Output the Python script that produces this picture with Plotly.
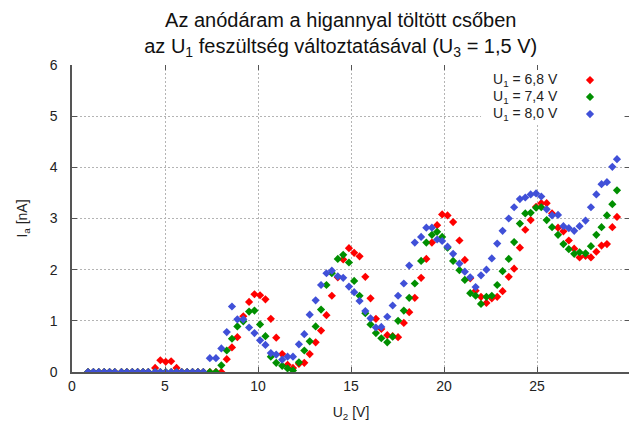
import plotly.graph_objects as go

U2 = [0.86, 1.15, 1.44, 1.73, 2.02, 2.30, 2.66, 2.95, 3.24, 3.53,
      3.82, 4.10, 4.47, 4.75, 5.04, 5.33, 5.62, 5.90, 6.19, 6.48,
      6.77, 7.06, 7.41, 7.74, 8.03, 8.32, 8.60, 8.89, 9.21, 9.52,
      9.81, 10.11, 10.40, 10.69, 10.98, 11.30, 11.59, 11.88, 12.20, 12.49,
      12.78, 13.10, 13.39, 13.68, 13.97, 14.29, 14.58, 14.89, 15.17, 15.46,
      15.77, 16.05, 16.34, 16.63, 16.95, 17.24, 17.53, 17.84, 18.13, 18.43,
      18.77, 19.05, 19.35, 19.63, 19.90, 20.19, 20.49, 20.83, 21.12, 21.41,
      21.70, 21.99, 22.28, 22.57, 22.86, 23.15, 23.48, 23.77, 24.08, 24.37,
      24.66, 24.95, 25.23, 25.52, 25.81, 26.13, 26.42, 26.71, 27.00, 27.29,
      27.61, 27.90, 28.19, 28.47, 28.76, 29.05, 29.30]

# Ia [nA] for U1 = 6,8 V
Ia_68 = [0, 0, 0, 0, 0, 0, 0, 0, 0, 0,
         0, 0, 0.08, 0.23, 0.20, 0.21, 0.08, 0, 0, 0,
         0, 0, 0, 0, 0, 0.25, 0.48, 0.68, 1.09, 1.37,
         1.52, 1.50, 1.42, 1.04, 0.67, 0.35, 0.14, 0.08, 0.16, 0.18,
         0.35, 0.58, 0.81, 1.11, 1.49, 1.85, 2.20, 2.42, 2.33, 2.26,
         1.86, 1.44, 1.04, 0.84, 0.72, 0.70, 0.68, 0.96, 1.17, 1.45,
         1.84, 2.21, 2.53, 2.87, 3.08, 3.06, 2.93, 2.57, 2.19, 1.83,
         1.59, 1.47, 1.35, 1.44, 1.47, 1.58, 1.86, 2.02, 2.43, 2.78,
         2.97, 3.23, 3.30, 3.30, 3.10, 2.82, 2.75, 2.57, 2.41, 2.24,
         2.27, 2.24, 2.35, 2.47, 2.50, 2.83, 3.03]

# Ia [nA] for U1 = 7,4 V
Ia_74 = [0, 0, 0, 0, 0, 0, 0, 0, 0, 0,
         0, 0, 0, 0, 0, 0, 0, 0, 0, 0,
         0, 0, 0, 0, 0.13, 0.42, 0.65, 0.89, 0.99, 1.18,
         1.20, 0.93, 0.70, 0.30, 0.18, 0.12, 0.07, 0.03, 0.19, 0.42,
         0.60, 0.89, 1.22, 1.70, 1.93, 2.21, 2.29, 2.14, 1.78, 1.49,
         1.15, 0.93, 0.76, 0.66, 0.58, 0.69, 1.00, 1.20, 1.45, 1.73,
         2.17, 2.53, 2.68, 2.74, 2.64, 2.43, 2.17, 1.99, 1.80, 1.54,
         1.49, 1.33, 1.47, 1.49, 1.70, 1.97, 2.21, 2.54, 2.90, 3.10,
         3.11, 3.21, 3.22, 2.97, 2.83, 2.68, 2.50, 2.40, 2.31, 2.34,
         2.32, 2.46, 2.68, 2.83, 3.06, 3.28, 3.55]

# Ia [nA] for U1 = 8,0 V
Ia_80 = [0, 0, 0, 0, 0, 0, 0, 0, 0, 0,
         0, 0, 0, 0, 0, 0, 0, 0, 0, 0,
         0, 0, 0.27, 0.27, 0.46, 0.78, 1.28, 1.03, 1.03, 0.87,
         0.76, 0.62, 0.53, 0.37, 0.34, 0.24, 0.30, 0.30, 0.54, 0.74,
         1.12, 1.40, 1.70, 1.93, 1.98, 1.87, 1.84, 1.67, 1.56, 1.39,
         1.19, 1.05, 0.87, 0.88, 1.08, 1.30, 1.49, 1.73, 2.08, 2.53,
         2.64, 2.82, 2.82, 2.59, 2.56, 2.45, 2.31, 2.12, 1.96, 1.85,
         1.66, 1.89, 2.00, 2.22, 2.51, 2.76, 3.00, 3.22, 3.38, 3.41,
         3.47, 3.49, 3.43, 3.18, 3.06, 3.07, 2.85, 2.81, 2.76, 2.85,
         2.96, 3.22, 3.47, 3.67, 3.71, 4.01, 4.16]

series_labels = ["U<sub>1</sub> = 6,8 V", "U<sub>1</sub> = 7,4 V", "U<sub>1</sub> = 8,0 V"]
series_values = [Ia_68, Ia_74, Ia_80]
colors = ["#ff0000", "#008f00", "#4050d8"]

x_ticks = [0, 5, 10, 15, 20, 25, 30]
y_ticks = [0, 1, 2, 3, 4, 5, 6]
x_grid = [5, 10, 15, 20, 25]
y_grid = [1, 2, 3, 4, 5]

FONT = "Liberation Sans, Arial, sans-serif"
AX = "#555555"
legend_ids = ["legend", "legend2", "legend3"]
legend_y = [0.951, 0.896, 0.840]

fig = go.Figure()
for lab, vals, col, lid in zip(series_labels, series_values, colors, legend_ids):
    fig.add_trace(go.Scatter(
        x=U2, y=vals, mode="markers", name=" ", legend=lid,
        marker=dict(symbol="diamond", size=6.3, color=col, line=dict(width=0)),
        showlegend=True,
    ))
# invisible trace holding the overlay axes (grid + mirrored ticks)
fig.add_trace(go.Scatter(x=[], y=[], xaxis="x2", yaxis="y2", showlegend=False))

legend_common = dict(x=0.8925, xanchor="left", yanchor="middle",
                     bgcolor="rgba(0,0,0,0)", font=dict(size=9),
                     itemsizing="trace", borderwidth=0)

fig.update_layout(
    width=629, height=418,
    margin=dict(l=64, r=7, t=57, b=54, autoexpand=False),
    paper_bgcolor="white", plot_bgcolor="white",
    font=dict(family=FONT, size=14, color="#222222"),
    title=dict(
        text="Az anódáram a higannyal töltött csőben<br>az U<sub>1</sub> feszültség változtatásával (U<sub>3</sub> = 1,5 V)",
        font=dict(family=FONT, size=20, color="#111111"),
        x=0.529, xref="container", xanchor="center",
        y=0.955, yref="container", yanchor="middle",
    ),
    xaxis=dict(
        range=[0, 30], tickvals=x_ticks, ticks="inside", ticklen=5, tickcolor=AX,
        showline=True, linecolor=AX, linewidth=1.5, showgrid=False, zeroline=False,
        tickfont=dict(size=14), ticklabelstandoff=0, automargin=False,
        title=dict(text="U<sub>2</sub> [V]", font=dict(size=14), standoff=15),
    ),
    yaxis=dict(
        range=[0, 6], tickvals=y_ticks, ticks="inside", ticklen=5, tickcolor=AX,
        showline=True, linecolor=AX, linewidth=1.5, showgrid=False, zeroline=False,
        tickfont=dict(size=14), ticklabelstandoff=10, automargin=False,
        title=dict(text="I<sub>a</sub> [nA]", font=dict(size=14), standoff=19),
    ),
    xaxis2=dict(
        range=[0, 30], overlaying="x", side="top", anchor="y2",
        tickvals=x_grid, ticks="inside", ticklen=5, tickcolor=AX,
        showticklabels=False, showline=False, zeroline=False,
        showgrid=True, gridcolor="#b4b4b4", griddash="2px,2px", gridwidth=1,
    ),
    yaxis2=dict(
        range=[0, 6], overlaying="y", side="right", anchor="x2",
        tickvals=y_grid, ticks="inside", ticklen=5, tickcolor=AX,
        showticklabels=False, showline=False, zeroline=False,
        showgrid=True, gridcolor="#b4b4b4", griddash="2px,2px", gridwidth=1,
    ),
    legend=dict(y=legend_y[0], **legend_common),
    legend2=dict(y=legend_y[1], **legend_common),
    legend3=dict(y=legend_y[2], **legend_common),
    showlegend=True,
)

# white legend box covering the grid
fig.add_shape(type="rect", xref="paper", yref="paper",
              x0=0.733, x1=0.986, y0=0.808, y1=0.984,
              fillcolor="white", line=dict(width=0), layer="above")

for lab, ly in zip(series_labels, legend_y):
    fig.add_annotation(text=lab, xref="paper", yref="paper", x=0.8746, y=ly,
                       xanchor="right", yanchor="middle", showarrow=False,
                       font=dict(family=FONT, size=14, color="#222222"))

fig.write_html("out.html")
